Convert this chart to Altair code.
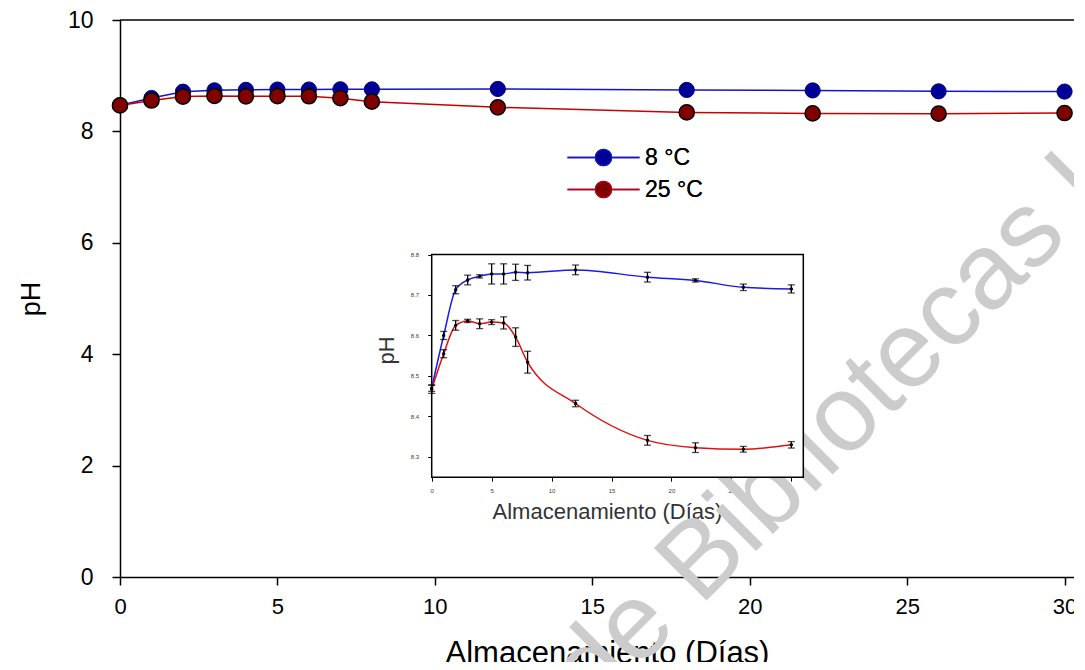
import altair as alt
import pandas as pd

# ---------------- data ----------------
days = [0, 1, 2, 3, 4, 5, 6, 7, 8, 12, 18, 22, 26, 30]
ph_8 = [8.470, 8.600, 8.713, 8.737, 8.746, 8.752, 8.752, 8.756, 8.755, 8.762, 8.744, 8.736, 8.719, 8.715]
ph_25 = [8.467, 8.555, 8.625, 8.636, 8.629, 8.633, 8.631, 8.596, 8.534, 8.432, 8.341, 8.323, 8.319, 8.330]
err_8 = [0.008, 0.010, 0.010, 0.012, 0.004, 0.025, 0.025, 0.020, 0.018, 0.012, 0.012, 0.004, 0.008, 0.010]
err_25 = [0.010, 0.010, 0.012, 0.004, 0.012, 0.006, 0.015, 0.023, 0.027, 0.008, 0.012, 0.012, 0.007, 0.008]
series = ["8 °C", "25 °C"]

x_ticks = [0, 5, 10, 15, 20, 25, 30]
y_ticks = [0, 2, 4, 6, 8, 10]
inset_y_ticks = [8.3, 8.4, 8.5, 8.6, 8.7, 8.8]
main_x_domain = [0, 30.3]
main_y_domain = [0, 10]
inset_x_domain = [0, 31]
inset_y_domain = [8.25, 8.8]
x_title = "Almacenamiento (Días)"
y_title = "pH"
watermark = "de Bibliotecas UAQ"

rows = []
for s, vals, errs in ((series[0], ph_8, err_8), (series[1], ph_25, err_25)):
    for d, v, e in zip(days, vals, errs):
        rows.append({"dia": d, "ph": v, "serie": s, "lo": v - e, "hi": v + e})
df = pd.DataFrame(rows)

FONT = "Liberation Sans"
W, H = 954, 557

# ---------------- main chart ----------------
mx = alt.Scale(domain=main_x_domain, nice=False, zero=False)
my = alt.Scale(domain=main_y_domain, nice=False)

main_x_axis = alt.Axis(values=x_ticks, title=x_title, grid=False, domainColor="black", domainWidth=1.5,
                       tickColor="black", tickWidth=1.5, tickSize=8, labelFontSize=22, labelFont=FONT,
                       labelColor="black", labelPadding=11, titleFont=FONT, titleFontSize=31,
                       titleFontWeight="normal", titleColor="black", titlePadding=21, titleX=487,
                       labelFlush=False, format="d")
main_y_axis = alt.Axis(values=y_ticks, title=y_title, grid=False, domainColor="black", domainWidth=1.5,
                       tickColor="black", tickWidth=1.5, tickSize=8, labelFontSize=23, labelFont=FONT,
                       labelColor="black", labelPadding=19, titleFont=FONT, titleFontSize=27,
                       titleFontWeight="normal", titleColor="black", titlePadding=22, format="d")

# legend symbol: line with a circle in the middle (unit = 8 px)
legend = alt.Legend(title=None, orient="none", legendX=472, legendY=126,
                    symbolType="M-4.5,0H-1M1,0H4.5M1,0A1,1,0,1,1,-1,0A1,1,0,1,1,1,0Z",
                    symbolSize=256, symbolStrokeWidth=1.5, labelFontSize=23, labelFont=FONT,
                    labelFontWeight="normal", labelColor="black", labelOffset=30, rowPadding=8,
                    padding=0)

stroke_scale = alt.Scale(domain=series, range=["#1414c8", "#c80000"])
fill_scale = alt.Scale(domain=series, range=["#000096", "#800000"])

wm = alt.Chart(pd.DataFrame({"t": [watermark]})).mark_text(
    angle=315, fontSize=108, font=FONT, color="#cccccc", align="left", baseline="alphabetic"
).encode(text="t:N", x=alt.value(474), y=alt.value(693))

top_border = alt.Chart(pd.DataFrame({"a": [main_x_domain[0]], "b": [main_x_domain[1]], "y": [main_y_domain[1]]})).mark_rule(
    color="black", strokeWidth=1.5
).encode(x=alt.X("a:Q", scale=mx), x2="b:Q", y=alt.Y("y:Q", scale=my))

main_line = alt.Chart(df).mark_line(strokeWidth=1.5).encode(
    x=alt.X("dia:Q", scale=mx, axis=main_x_axis),
    y=alt.Y("ph:Q", scale=my, axis=main_y_axis),
    stroke=alt.Stroke("serie:N", scale=stroke_scale, legend=legend),
    detail="serie:N",
)
pts_8 = alt.Chart(df).transform_filter(alt.datum.serie == series[0]).mark_point(
    shape="circle", filled=True, size=230, opacity=1, stroke="#000080", strokeWidth=1
).encode(x=alt.X("dia:Q", scale=mx), y=alt.Y("ph:Q", scale=my),
         fill=alt.Fill("serie:N", scale=fill_scale, legend=legend))
pts_25 = alt.Chart(df).transform_filter(alt.datum.serie == series[1]).mark_point(
    shape="circle", filled=True, size=230, opacity=1, stroke="black", strokeWidth=1.5
).encode(x=alt.X("dia:Q", scale=mx), y=alt.Y("ph:Q", scale=my),
         fill=alt.Fill("serie:N", scale=fill_scale, legend=legend))

main = alt.layer(wm, top_border, main_line, pts_8, pts_25)

# ---------------- inset ----------------
ix = alt.Scale(domain=inset_x_domain, range=[311.7, 683.3], nice=False, zero=False)
iy = alt.Scale(domain=inset_y_domain, range=[457.2, 234.5], nice=False, zero=False)

inset_x_axis = alt.Axis(orient="bottom", offset=-99.8, values=x_ticks, title=x_title, grid=False,
                        domain=False, tickColor="black", tickWidth=1, tickSize=4, labelFontSize=6,
                        labelFont=FONT, labelColor="#4a3a20", labelPadding=6, titleFont=FONT,
                        titleFontSize=22, titleFontWeight="normal", titleColor="#333333", titlePadding=8,
                        titleX=487, format="d", labelFlush=False)
inset_y_axis = alt.Axis(orient="left", offset=-311.7, values=inset_y_ticks, title=y_title, grid=False,
                        domain=False, tickColor="black", tickWidth=1, tickSize=4, labelFontSize=6,
                        labelFont=FONT, labelColor="#4a3a20", labelPadding=9, titleFont=FONT,
                        titleFontSize=22, titleFontWeight="normal", titleColor="#333333", titlePadding=12,
                        titleY=330, format=".1f")

frame = alt.Chart(pd.DataFrame({"x0": [inset_x_domain[0]], "x1": [inset_x_domain[1]],
                                "y0": [inset_y_domain[0]], "y1": [inset_y_domain[1]]})).mark_rect(
    fill="white", stroke="black", strokeWidth=1.5
).encode(x=alt.X("x0:Q", scale=ix, axis=inset_x_axis), x2="x1:Q",
         y=alt.Y("y0:Q", scale=iy, axis=inset_y_axis), y2="y1:Q")

inset_line = alt.Chart(df).mark_line(strokeWidth=1.5, interpolate="monotone").encode(
    x=alt.X("dia:Q", scale=ix),
    y=alt.Y("ph:Q", scale=iy),
    stroke=alt.Stroke("serie:N", scale=alt.Scale(domain=series, range=["#1a1aee", "#e01010"]), legend=None),
    detail="serie:N",
)
bars = alt.Chart(df).mark_rule(color="black", strokeWidth=1.3).encode(
    x=alt.X("dia:Q", scale=ix), y=alt.Y("lo:Q", scale=iy), y2="hi:Q")
cap_lo = alt.Chart(df).mark_tick(orient="horizontal", size=7, thickness=1.3, color="black").encode(
    x=alt.X("dia:Q", scale=ix), y=alt.Y("lo:Q", scale=iy))
cap_hi = alt.Chart(df).mark_tick(orient="horizontal", size=7, thickness=1.3, color="black").encode(
    x=alt.X("dia:Q", scale=ix), y=alt.Y("hi:Q", scale=iy))
dots = alt.Chart(df).mark_circle(size=12, color="black", opacity=1).encode(
    x=alt.X("dia:Q", scale=ix), y=alt.Y("ph:Q", scale=iy))

inset = alt.layer(frame, inset_line, bars, cap_lo, cap_hi, dots)

chart = alt.layer(main, inset).resolve_scale(
    x="independent", y="independent", stroke="independent"
).properties(
    width=W, height=H,
    autosize=alt.AutoSizeParams(type="none"),
    padding={"left": 112, "top": 12, "right": 0, "bottom": 85},
).configure_view(stroke=None)

chart.save("out.html", embed_options={"renderer": "svg", "actions": False})
